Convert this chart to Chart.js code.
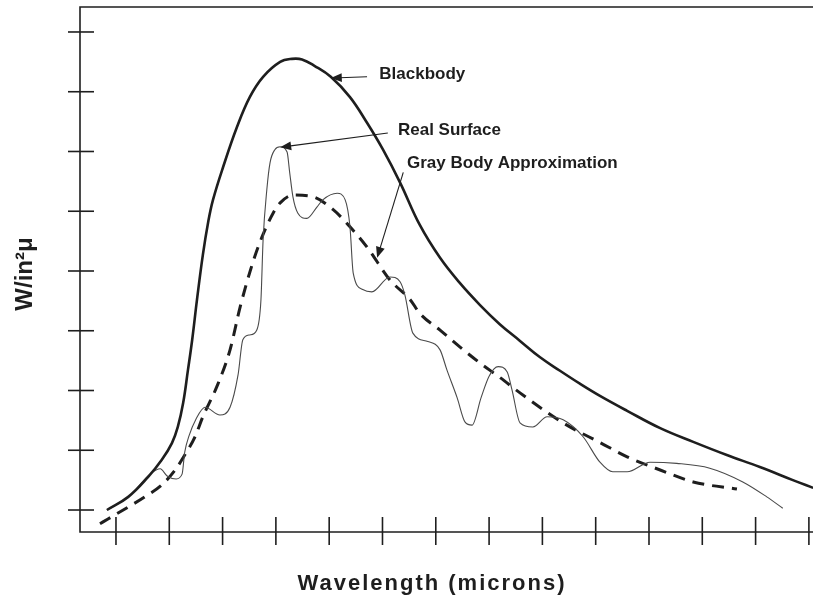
<!DOCTYPE html>
<html lang="en">
<head>
    <meta charset="UTF-8">
    <title>Blackbody vs Real Surface vs Gray Body</title>
    <script src="https://cdn.jsdelivr.net/npm/chart.js"></script>
    <style>
        html, body {
            margin: 0;
            padding: 0;
            background: #ffffff;
        }
        .chart-box {
            width: 813px;
            height: 603px;
            position: relative;
        }
    </style>
</head>
<body>
    <div class="chart-box">
        <canvas id="chart"></canvas>
    </div>

    <script>
        // tick positions (no labels in the original figure)
        const xTicks = [1, 2, 3, 4, 5, 6, 7, 8, 9, 10, 11, 12, 13, 14];
        const yTicks = [1, 2, 3, 4, 5, 6, 7, 8, 9];

        // Blackbody curve
        const blackX = [0.83, 1.23, 1.60, 1.86, 2.05, 2.16, 2.26, 2.35, 2.43, 2.52, 2.63, 2.73, 2.82, 3.01, 3.27, 3.51, 3.76, 4.08, 4.30, 4.49, 4.73, 5.03, 5.39, 5.71, 6.01, 6.33, 6.70, 7.08, 7.45, 7.83, 8.20, 8.58, 8.95, 9.33, 9.71, 10.08, 10.59, 11.21, 11.83, 12.46, 13.08, 13.70, 14.08];
        const blackY = [1.00, 1.22, 1.55, 1.84, 2.12, 2.39, 2.79, 3.34, 3.85, 4.52, 5.27, 5.82, 6.19, 6.74, 7.41, 7.91, 8.25, 8.50, 8.55, 8.54, 8.43, 8.25, 7.91, 7.48, 7.03, 6.48, 5.77, 5.22, 4.80, 4.43, 4.11, 3.83, 3.56, 3.33, 3.11, 2.91, 2.66, 2.37, 2.14, 1.92, 1.72, 1.50, 1.37];

        // Real surface curve
        const realX = [0.83, 1.23, 1.64, 1.83, 1.96, 2.13, 2.24, 2.29, 2.37, 2.50, 2.67, 2.95, 3.14, 3.29, 3.38, 3.51, 3.64, 3.72, 3.76, 3.83, 3.89, 3.98, 4.08, 4.21, 4.26, 4.32, 4.41, 4.58, 4.77, 4.88, 5.15, 5.30, 5.39, 5.45, 5.63, 5.80, 6.14, 6.33, 6.42, 6.57, 6.85, 7.08, 7.21, 7.40, 7.55, 7.68, 7.85, 8.00, 8.17, 8.34, 8.43, 8.58, 8.82, 9.09, 9.39, 9.76, 10.08, 10.32, 10.59, 11.02, 11.52, 12.14, 12.76, 13.21, 13.51];
        const realY = [1.00, 1.22, 1.60, 1.69, 1.57, 1.52, 1.60, 1.97, 2.24, 2.52, 2.72, 2.59, 2.72, 3.26, 3.85, 3.93, 4.01, 4.52, 5.52, 6.36, 6.81, 7.03, 7.08, 6.99, 6.64, 6.24, 5.97, 5.88, 6.07, 6.19, 6.30, 6.19, 5.74, 4.97, 4.69, 4.65, 4.90, 4.82, 4.60, 3.96, 3.82, 3.68, 3.34, 2.88, 2.47, 2.42, 2.88, 3.24, 3.40, 3.31, 3.01, 2.46, 2.39, 2.56, 2.51, 2.23, 1.80, 1.64, 1.64, 1.80, 1.78, 1.70, 1.47, 1.22, 1.03];

        // Gray body approximation
        const grayX = [0.70, 0.85, 1.23, 1.54, 1.86, 2.11, 2.29, 2.48, 2.63, 2.89, 3.14, 3.33, 3.57, 3.74, 3.95, 4.08, 4.32, 4.70, 5.07, 5.39, 5.71, 6.14, 6.52, 6.70, 7.08, 7.45, 7.83, 8.20, 8.58, 8.95, 9.46, 10.08, 10.59, 11.21, 11.83, 12.65];
        const grayY = [0.77, 0.85, 1.05, 1.22, 1.42, 1.67, 1.92, 2.22, 2.56, 3.06, 3.68, 4.40, 5.15, 5.57, 5.97, 6.14, 6.27, 6.24, 6.03, 5.74, 5.40, 4.85, 4.52, 4.29, 4.01, 3.73, 3.46, 3.22, 2.96, 2.72, 2.42, 2.13, 1.89, 1.67, 1.47, 1.35];

        const toPoints = (xs, ys) => xs.map((x, i) => ({ x: x, y: ys[i] }));

        // labels with arrows: text anchor and arrow tail/tip, in data units
        const notes = [
            { text: 'Blackbody',               tx: 5.94, ty: 8.22, ax: 5.71, ay: 8.25, bx: 5.03, by: 8.23 },
            { text: 'Real Surface',            tx: 6.29, ty: 7.28, ax: 6.10, ay: 7.31, bx: 4.08, by: 7.07 },
            { text: 'Gray Body Approximation', tx: 6.46, ty: 6.72, ax: 6.39, ay: 6.65, bx: 5.90, by: 5.22 }
        ];

        const ink = '#1e1e1e';

        function arrow(ctx, x1, y1, x2, y2) {
            const ang = Math.atan2(y2 - y1, x2 - x1);
            const len = 11, half = 4.5;
            ctx.beginPath();
            ctx.moveTo(x1, y1);
            ctx.lineTo(x2 - Math.cos(ang) * len * 0.8, y2 - Math.sin(ang) * len * 0.8);
            ctx.stroke();
            ctx.beginPath();
            ctx.moveTo(x2, y2);
            ctx.lineTo(x2 - Math.cos(ang) * len + Math.sin(ang) * half, y2 - Math.sin(ang) * len - Math.cos(ang) * half);
            ctx.lineTo(x2 - Math.cos(ang) * len - Math.sin(ang) * half, y2 - Math.sin(ang) * len + Math.cos(ang) * half);
            ctx.closePath();
            ctx.fill();
        }

        const framePlugin = {
            id: 'frame',
            afterDatasetsDraw(chart) {
                const ctx = chart.ctx;
                const xs = chart.scales.x, ys = chart.scales.y;
                const a = chart.chartArea;
                ctx.save();
                ctx.strokeStyle = ink;
                ctx.fillStyle = ink;

                // axes and top border
                ctx.lineWidth = 1.6;
                ctx.beginPath();
                ctx.moveTo(a.right, a.top);
                ctx.lineTo(a.left, a.top);
                ctx.lineTo(a.left, a.bottom);
                ctx.lineTo(a.right, a.bottom);
                ctx.stroke();

                // tick marks crossing the axes
                yTicks.forEach(v => {
                    const py = ys.getPixelForValue(v);
                    ctx.beginPath();
                    ctx.moveTo(a.left - 12, py);
                    ctx.lineTo(a.left + 14, py);
                    ctx.stroke();
                });
                xTicks.forEach(v => {
                    const px = xs.getPixelForValue(v);
                    ctx.beginPath();
                    ctx.moveTo(px, a.bottom - 15);
                    ctx.lineTo(px, a.bottom + 13);
                    ctx.stroke();
                });

                // annotations
                ctx.lineWidth = 1.1;
                ctx.font = 'bold 17px "Liberation Sans", Arial, sans-serif';
                ctx.textBaseline = 'alphabetic';
                ctx.textAlign = 'left';
                notes.forEach(n => {
                    arrow(ctx, xs.getPixelForValue(n.ax), ys.getPixelForValue(n.ay),
                               xs.getPixelForValue(n.bx), ys.getPixelForValue(n.by));
                    ctx.fillText(n.text, xs.getPixelForValue(n.tx), ys.getPixelForValue(n.ty));
                });

                // axis titles
                ctx.textAlign = 'center';
                ctx.font = 'bold 22px "Liberation Sans", Arial, sans-serif';
                ctx.letterSpacing = '2px';
                ctx.fillText('Wavelength (microns)', 432, 590);
                ctx.letterSpacing = '0px';

                ctx.translate(32, 274);
                ctx.rotate(-Math.PI / 2);
                ctx.font = 'bold 24px "Liberation Sans", Arial, sans-serif';
                ctx.fillText('W/in\u00B2\u03BC', 0, 0);
                ctx.restore();
            }
        };

        const ctx = document.getElementById('chart').getContext('2d');
        const chart = new Chart(ctx, {
            type: 'line',
            data: {
                datasets: [{
                    label: 'Blackbody',
                    data: toPoints(blackX, blackY),
                    borderColor: ink,
                    borderWidth: 2.6,
                    pointRadius: 0,
                    tension: 0.4
                }, {
                    label: 'Real Surface',
                    data: toPoints(realX, realY),
                    borderColor: '#4a4a4a',
                    borderWidth: 1.1,
                    pointRadius: 0,
                    cubicInterpolationMode: 'monotone'
                }, {
                    label: 'Gray Body Approximation',
                    data: toPoints(grayX, grayY),
                    borderColor: ink,
                    borderWidth: 3,
                    borderDash: [12, 8],
                    pointRadius: 0,
                    cubicInterpolationMode: 'monotone'
                }]
            },
            options: {
                responsive: true,
                maintainAspectRatio: false,
                animation: false,
                clip: false,
                layout: {
                    padding: { left: 80, right: 0, top: 7, bottom: 71 }
                },
                plugins: {
                    legend: { display: false },
                    tooltip: { enabled: false }
                },
                scales: {
                    x: { type: 'linear', display: false, min: 0.325, max: 14.077 },
                    y: { type: 'linear', display: false, min: 0.632, max: 9.418 }
                }
            },
            plugins: [framePlugin]
        });
    </script>
</body>
</html>
